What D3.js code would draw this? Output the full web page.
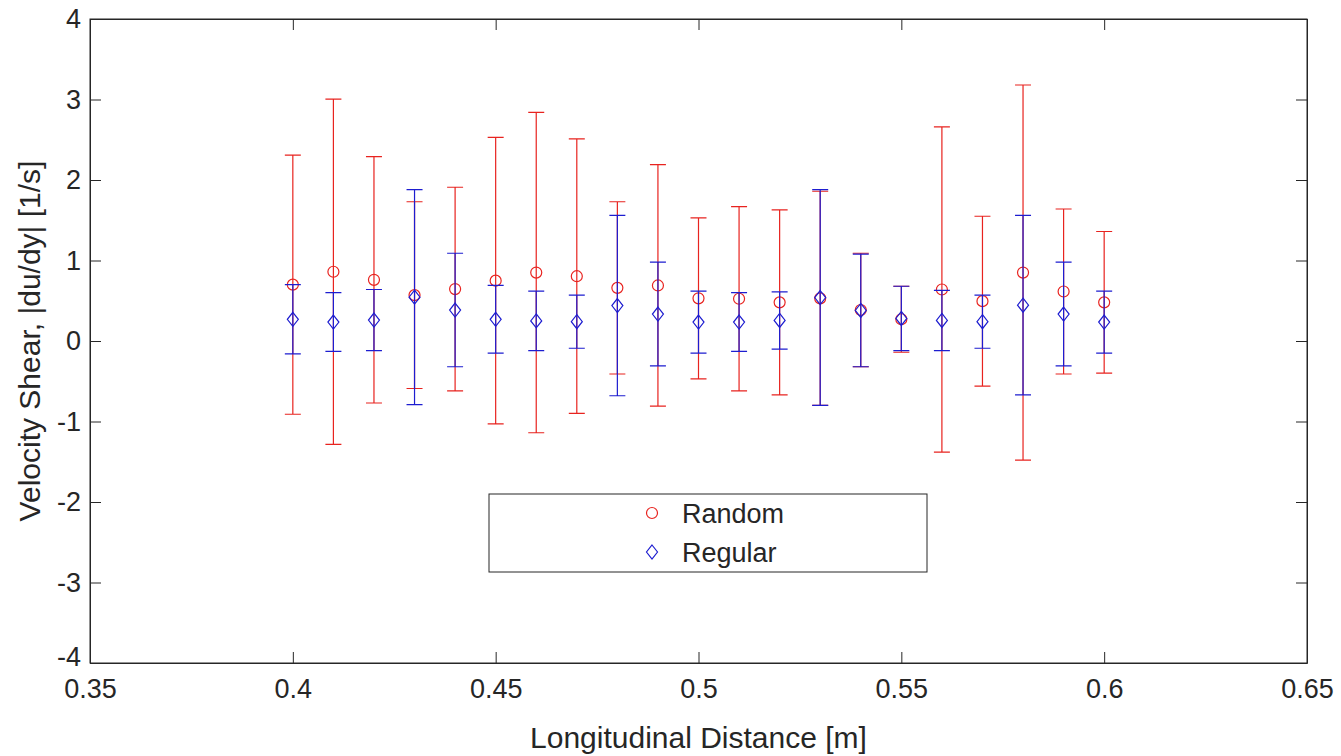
<!DOCTYPE html>
<html>
<head>
<meta charset="UTF-8">
<title>Velocity Shear</title>
<script src="https://cdn.jsdelivr.net/npm/d3@7"></script>
<style>
  body { margin: 0; background: #fff; }
  text { font-family: "Liberation Sans", Arial, sans-serif; fill: #262626; }
  .axis path, .axis line { stroke: #262626; }
</style>
</head>
<body>
<div id="graphe"></div>
<script>
// positions along the flume [m]
var distance = [0.40, 0.41, 0.42, 0.43, 0.44, 0.45, 0.46, 0.47, 0.48, 0.49, 0.50,
                0.51, 0.52, 0.53, 0.54, 0.55, 0.56, 0.57, 0.58, 0.59, 0.60];

// Random arrangement : mean and error
var randomMean = [0.70, 0.86, 0.76, 0.57, 0.645, 0.75, 0.85, 0.805, 0.66, 0.69, 0.53,
                  0.525, 0.48, 0.53, 0.385, 0.27, 0.64, 0.495, 0.85, 0.615, 0.48];
var randomErr  = [1.61, 2.145, 1.53, 1.16, 1.265, 1.78, 1.99, 1.705, 1.07, 1.50, 1.00,
                  1.145, 1.15, 1.33, 0.705, 0.41, 2.02, 1.055, 2.33, 1.025, 0.88];

// Regular arrangement : mean and error
var regularMean = [0.27, 0.235, 0.26, 0.545, 0.385, 0.27, 0.25, 0.24, 0.44, 0.335, 0.235,
                   0.235, 0.255, 0.54, 0.38, 0.28, 0.255, 0.24, 0.445, 0.335, 0.235];
var regularErr  = [0.43, 0.365, 0.38, 1.335, 0.705, 0.42, 0.37, 0.33, 1.12, 0.645, 0.385,
                   0.365, 0.355, 1.34, 0.70, 0.40, 0.375, 0.33, 1.115, 0.645, 0.385];

var xTicks = [0.35, 0.4, 0.45, 0.5, 0.55, 0.6, 0.65];
var yTicks = [-4, -3, -2, -1, 0, 1, 2, 3, 4];

var width = 1341, height = 756;
var margin = { top: 19, right: 34, bottom: 93, left: 90 };
var w = width - margin.left - margin.right,
    h = height - margin.top - margin.bottom;

var svg = d3.select("#graphe").append("svg")
    .attr("width", width)
    .attr("height", height);

var g = svg.append("g")
    .attr("transform", "translate(" + margin.left + "," + margin.top + ")");

var x = d3.scaleLinear().domain([0.35, 0.65]).range([0, w]);
var y = d3.scaleLinear().domain([-4, 4]).range([h, 0]);

var tickLen = 11;
var plain = function(d) { return String(d); };

// axes, ticks pointing inward like matlab
g.append("g").attr("class", "axis")
    .attr("transform", "translate(0," + h + ")")
    .call(d3.axisBottom(x).tickValues(xTicks).tickSizeInner(-tickLen).tickSizeOuter(0)
        .tickPadding(16).tickFormat(plain))
    .call(function(a) { a.selectAll("text").style("font-size", "27px"); });

g.append("g").attr("class", "axis")
    .call(d3.axisTop(x).tickValues(xTicks).tickSizeInner(-tickLen).tickSizeOuter(0).tickFormat(""));

g.append("g").attr("class", "axis")
    .call(d3.axisLeft(y).tickValues(yTicks).tickSizeInner(-tickLen).tickSizeOuter(0)
        .tickPadding(9).tickFormat(plain))
    .call(function(a) {
        a.selectAll("text").style("font-size", "27px");
        a.selectAll(".tick").filter(function(d) { return d === -4; })
            .select("text").attr("dy", "0.1em");
    });

g.append("g").attr("class", "axis")
    .attr("transform", "translate(" + w + ",0)")
    .call(d3.axisRight(y).tickValues(yTicks).tickSizeInner(-tickLen).tickSizeOuter(0).tickFormat(""));

g.append("rect")
    .attr("width", w).attr("height", h)
    .attr("fill", "none").attr("stroke", "#262626").attr("stroke-width", 1);

// labels
svg.append("text")
    .attr("x", margin.left + x(0.5))
    .attr("y", 748)
    .attr("text-anchor", "middle")
    .style("font-size", "30px")
    .text("Longitudinal Distance [m]");

svg.append("text")
    .attr("transform", "translate(40," + (margin.top + y(0)) + ") rotate(-90)")
    .attr("text-anchor", "middle")
    .style("font-size", "30px")
    .text("Velocity Shear, |du/dy| [1/s]");

var cap = 8;

function drawSeries(mean, err, color, shape) {
    var data = distance.map(function(d, i) {
        return { x: d, m: mean[i], e: err[i] };
    });
    var s = g.append("g");
    s.selectAll(".bar").data(data).enter().append("path")
        .attr("fill", "none")
        .attr("stroke", color)
        .attr("stroke-width", 1.2)
        .attr("d", function(d) {
            var cx = x(d.x), t = y(d.m + d.e), b = y(d.m - d.e);
            return "M" + cx + "," + t + "V" + b +
                "M" + (cx - cap) + "," + t + "H" + (cx + cap) +
                "M" + (cx - cap) + "," + b + "H" + (cx + cap);
        });
    if (shape === "circle") {
        s.selectAll(".pt").data(data).enter().append("circle")
            .attr("cx", function(d) { return x(d.x); })
            .attr("cy", function(d) { return y(d.m); })
            .attr("r", 5.5)
            .attr("fill", "none").attr("stroke", color).attr("stroke-width", 1.2);
    } else {
        s.selectAll(".pt").data(data).enter().append("path")
            .attr("d", function(d) {
                var cx = x(d.x), cy = y(d.m);
                return "M" + cx + "," + (cy - 7) + "L" + (cx + 5.5) + "," + cy +
                    "L" + cx + "," + (cy + 7) + "L" + (cx - 5.5) + "," + cy + "Z";
            })
            .attr("fill", "none").attr("stroke", color).attr("stroke-width", 1.2);
    }
}

drawSeries(randomMean, randomErr, "#e8231f", "circle");
drawSeries(regularMean, regularErr, "#1d1dd0", "diamond");

// legend
var leg = svg.append("g");
leg.append("rect")
    .attr("x", 489).attr("y", 494).attr("width", 438).attr("height", 78)
    .attr("fill", "#fff").attr("stroke", "#262626").attr("stroke-width", 1);

leg.append("circle")
    .attr("cx", 652).attr("cy", 513).attr("r", 5.5)
    .attr("fill", "none").attr("stroke", "#e8231f").attr("stroke-width", 1.2);
leg.append("path")
    .attr("d", "M652,545L657.5,552L652,559L646.5,552Z")
    .attr("fill", "none").attr("stroke", "#1d1dd0").attr("stroke-width", 1.2);

leg.append("text").attr("x", 682).attr("y", 523).style("font-size", "27px").text("Random");
leg.append("text").attr("x", 682).attr("y", 562).style("font-size", "27px").text("Regular");
</script>
</body>
</html>
